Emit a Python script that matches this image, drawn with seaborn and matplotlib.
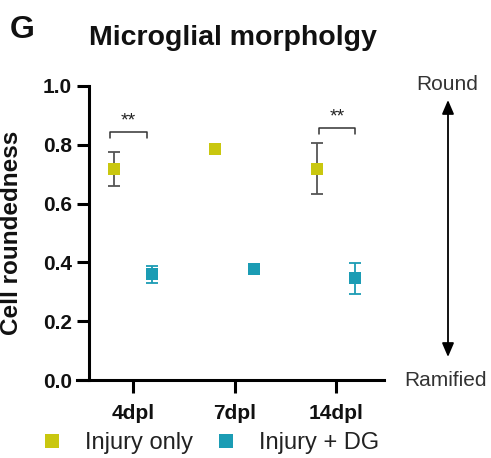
import numpy as np
import pandas as pd
import matplotlib
matplotlib.use("Agg")
import matplotlib.pyplot as plt
from matplotlib.lines import Line2D
import seaborn as sns

# Data: cell roundedness (mean ± SEM)
days = ["4dpl", "7dpl", "14dpl"]
groups = ["Injury only", "Injury + DG"]
injury_only_mean = [0.718, 0.785, 0.718]
injury_only_sem = [0.058, 0.010, 0.087]
injury_dg_mean = [0.360, 0.378, 0.346]
injury_dg_sem = [0.029, 0.010, 0.053]

# Significance brackets (day index, left/right offsets, height, label)
sig_days = [0, 2]
sig_left = [-0.227, -0.17]
sig_right = [0.135, 0.187]
sig_height = [0.844, 0.858]
sig_labels = ["**", "**"]

colors = {"Injury only": "#c9c70f", "Injury + DG": "#1b9cb4"}
err_colors = {"Injury only": "#555555", "Injury + DG": "#1b9cb4"}

sns.set_theme(style="ticks")
plt.rcParams["font.family"] = ["Liberation Sans", "DejaVu Sans"]

df = pd.DataFrame({
    "day": days * 2,
    "group": [groups[0]] * 3 + [groups[1]] * 3,
    "value": injury_only_mean + injury_dg_mean,
    "sem": injury_only_sem + injury_dg_sem,
})

fig = plt.figure(figsize=(4.91, 4.58), dpi=100)
ax = fig.add_axes([77 / 491, 78 / 458, 307 / 491, 294 / 458])

sns.pointplot(data=df, x="day", y="value", hue="group", order=days,
              hue_order=groups, palette=colors, markers="s",
              linestyles="none", dodge=0.38, errorbar=None, legend=False,
              markersize=8.5, markeredgewidth=0, ax=ax)

# Error bars placed at the dodged marker positions
for line, g in zip(ax.lines[:2], groups):
    line.set_zorder(3)
    xs = np.asarray(line.get_xdata(), dtype=float)
    sub = df[df["group"] == g].set_index("day").loc[days]
    ax.errorbar(xs, sub["value"], yerr=sub["sem"], fmt="none",
                ecolor=err_colors[g], elinewidth=1.3, capsize=4,
                capthick=1.3, zorder=1)

# Significance brackets
for d, l, r, h, lab in zip(sig_days, sig_left, sig_right, sig_height, sig_labels):
    ax.plot([d + l, d + l, d + r, d + r], [h - 0.02, h, h, h - 0.02],
            color="#333333", lw=1.1, clip_on=False)
    ax.text(d + (l + r) / 2, h + 0.036, lab, ha="center", va="center",
            fontsize=14, color="#222222")

ax.set_xlim(-0.552, 2.473)
ax.set_ylim(0, 1.0)
ax.set_yticks([0.0, 0.2, 0.4, 0.6, 0.8, 1.0])
ax.set_yticklabels(["0.0", "0.2", "0.4", "0.6", "0.8", "1.0"])
ax.set_xlabel("")
ax.set_ylabel("Cell roundedness", fontsize=17.5, fontweight="bold", color="#111111")
ax.yaxis.set_label_coords(-0.176, 0.5)

sns.despine(ax=ax)
ax.spines["left"].set_position(("axes", 12 / 307))
for s in ("left", "bottom"):
    ax.spines[s].set_linewidth(2.2)
    ax.spines[s].set_color("black")
ax.tick_params(axis="y", length=8.6, width=2.2, pad=3.5, labelsize=15, colors="black")
ax.tick_params(axis="x", length=9, width=2.2, pad=8, labelsize=15, colors="black")
for t in ax.get_xticklabels() + ax.get_yticklabels():
    t.set_fontweight("bold")
    t.set_color("#111111")

# Round / Ramified scale arrow
ax.annotate("", xy=(448 / 491, 1 - 100 / 458), xytext=(448 / 491, 1 - 357 / 458),
            xycoords="figure fraction", textcoords="figure fraction",
            arrowprops=dict(arrowstyle="<|-|>,head_length=0.7,head_width=0.3",
                            color="black", lw=1.3, shrinkA=0, shrinkB=0))
fig.text(447 / 491, 1 - 85 / 458, "Round", ha="center", va="center",
         fontsize=15, color="#333333")
fig.text(445 / 491, 1 - 380 / 458, "Ramified", ha="center", va="center",
         fontsize=15, color="#333333")

# Title and panel letter
fig.text(233 / 491, 1 - 38 / 458, "Microglial morpholgy", ha="center", va="center",
         fontsize=20.5, fontweight="bold", color="#111111")
fig.text(22 / 491, 1 - 30 / 458, "G", ha="center", va="center",
         fontsize=23, fontweight="bold", color="#111111")

# Legend
handles = [Line2D([], [], marker="s", linestyle="none", markersize=9.5,
                  markerfacecolor=colors[g], markeredgewidth=0) for g in groups]
leg = fig.legend(handles, groups, loc="center left",
                 bbox_to_anchor=(40 / 491, 15 / 458), ncol=2, frameon=False,
                 fontsize=17, handlelength=1.0, handletextpad=0.9,
                 columnspacing=0.9, borderpad=0, borderaxespad=0)
for t in leg.get_texts():
    t.set_color("#222222")

fig.savefig("out.png", dpi=100)
